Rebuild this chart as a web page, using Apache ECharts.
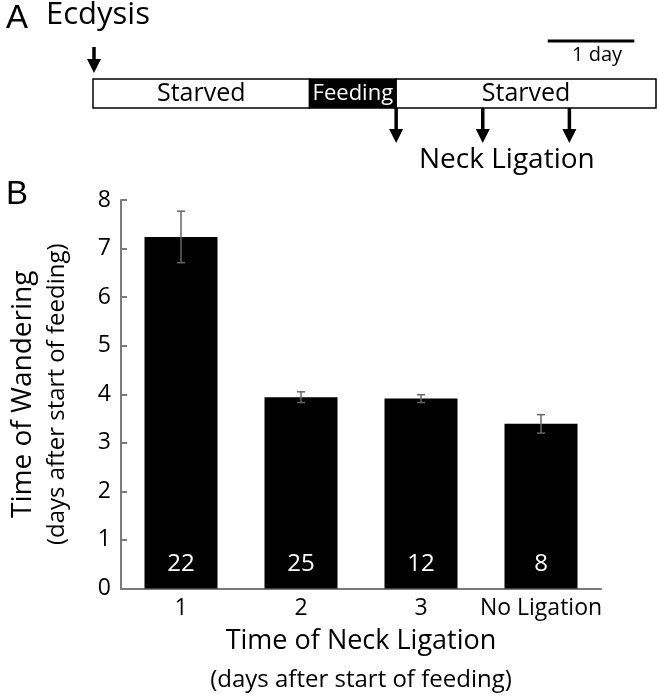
<!DOCTYPE html>
<html><head><meta charset="utf-8">
<script src="https://cdn.jsdelivr.net/npm/echarts@6/dist/echarts.min.js"></script>
<style>html,body{margin:0;padding:0;background:#fff}#c{width:658px;height:697px}</style>
</head><body><div id="c"></div>
<script>
// ---- Panel B data ----
const categories = ['1', '2', '3', 'No Ligation'];
const meanDays = [7.24, 3.94, 3.91, 3.39];
const errDays = [0.53, 0.11, 0.08, 0.19];
const sampleSizes = [22, 25, 12, 8];
const yTickMin = 0, yTickMax = 8, yTickStep = 1;

// ---- Panel A timeline (days after ecdysis) ----
const phaseNames = ['Starved', 'Feeding', 'Starved'];
const phaseStart = [0, 2.5, 3.5];
const phaseEnd = [2.5, 3.5, 6.5];
const ecdysisDay = [0];
const ligationDays = [3.5, 4.5, 5.5];
const scaleBarDays = [5.25, 6.25];
const scaleBarLabel = '1 day';

const FONT = '"Open Sans", Lato, sans-serif';
const FW = 500;
const LETTER_FONT = '"Liberation Sans", Arial, sans-serif';
const chart = echarts.init(document.getElementById('c'));

const errData = categories.map((c, i) => [i, meanDays[i] - errDays[i], meanDays[i] + errDays[i]]);

function arrow(x, y1, y2) {
  const head = 14, hw = 7;
  return [
    {type: 'line', shape: {x1: x, y1: y1, x2: x, y2: y2 - head + 2}, style: {stroke: '#000', lineWidth: 3.5}},
    {type: 'polygon', shape: {points: [[x - hw, y2 - head], [x + hw, y2 - head], [x, y2]]}, style: {fill: '#000'}}
  ];
}

const option = {
  animation: false,
  backgroundColor: '#fff',
  textStyle: {fontFamily: FONT, fontWeight: FW},
  grid: [
    {left: 121, right: 57, top: 200, bottom: 107},
    {left: 93, right: 2, top: 79, height: 29}
  ],
  xAxis: [
    {
      type: 'category', gridIndex: 0, data: categories, boundaryGap: true,
      axisLine: {lineStyle: {color: '#7a7a7a', width: 2}},
      axisTick: {inside: true, length: 7, lineStyle: {color: '#7a7a7a', width: 2}},
      axisLabel: {fontSize: 23, color: '#000', margin: 8, interval: 0, fontFamily: FONT, fontWeight: FW},
      name: '{a|Time of Neck Ligation}\n{b|(days after start of feeding)}',
      nameLocation: 'middle', nameGap: 33,
      nameTextStyle: {
        rich: {
          a: {fontSize: 27, color: '#000', lineHeight: 39, fontFamily: FONT, fontWeight: FW},
          b: {fontSize: 24, color: '#000', lineHeight: 39, fontFamily: FONT, fontWeight: FW}
        }
      }
    },
    {type: 'value', gridIndex: 1, min: 0, max: 6.5, show: false}
  ],
  yAxis: [
    {
      type: 'value', gridIndex: 0, min: yTickMin, max: yTickMax, interval: yTickStep,
      axisLine: {show: true, lineStyle: {color: '#7a7a7a', width: 2}},
      axisTick: {show: true, inside: true, length: 6, lineStyle: {color: '#7a7a7a', width: 2}},
      axisLabel: {fontSize: 23, color: '#000', margin: 10, fontFamily: FONT, fontWeight: FW},
      splitLine: {show: false},
      name: '{a|Time of Wandering}\n{b|(days after start of feeding)}',
      nameLocation: 'middle', nameGap: 47, nameRotate: 90,
      nameTextStyle: {
        rich: {
          a: {fontSize: 28, color: '#000', lineHeight: 34, fontFamily: FONT, fontWeight: FW},
          b: {fontSize: 24, color: '#000', lineHeight: 34, fontFamily: FONT, fontWeight: FW}
        }
      }
    },
    {type: 'value', gridIndex: 1, min: 0, max: 1, show: false}
  ],
  series: [
    {
      type: 'bar', xAxisIndex: 0, yAxisIndex: 0, data: meanDays, barWidth: 73,
      itemStyle: {color: '#000'},
      label: {
        show: true, position: 'insideBottom', distance: 12,
        formatter: p => String(sampleSizes[p.dataIndex]),
        color: '#fff', fontSize: 24, fontFamily: FONT, fontWeight: FW
      },
      z: 2
    },
    {
      type: 'custom', xAxisIndex: 0, yAxisIndex: 0, data: errData, z: 5,
      renderItem: (params, api) => {
        const lo = api.coord([api.value(0), api.value(1)]);
        const hi = api.coord([api.value(0), api.value(2)]);
        const hw = 4, st = {stroke: '#666', lineWidth: 1.5};
        return {type: 'group', children: [
          {type: 'line', shape: {x1: lo[0], y1: lo[1], x2: hi[0], y2: hi[1]}, style: st},
          {type: 'line', shape: {x1: hi[0] - hw, y1: hi[1], x2: hi[0] + hw, y2: hi[1]}, style: st},
          {type: 'line', shape: {x1: lo[0] - hw, y1: lo[1], x2: lo[0] + hw, y2: lo[1]}, style: st}
        ]};
      }
    },
    {
      type: 'custom', xAxisIndex: 1, yAxisIndex: 1,
      data: phaseNames.map((n, i) => [phaseStart[i], phaseEnd[i], i]),
      renderItem: (params, api) => {
        const p0 = api.coord([api.value(0), 1]);
        const p1 = api.coord([api.value(1), 0]);
        const name = phaseNames[api.value(2)];
        const dark = name === 'Feeding';
        return {
          type: 'rect',
          shape: {x: p0[0], y: p0[1], width: p1[0] - p0[0], height: p1[1] - p0[1]},
          style: {fill: dark ? '#000' : '#fff', stroke: '#000', lineWidth: 1.5},
          textContent: {style: {text: name, fill: dark ? '#fff' : '#000', fontSize: dark ? 22 : 25, fontFamily: FONT, fontWeight: FW}},
          textConfig: {position: 'inside'}
        };
      }
    },
    {
      type: 'custom', xAxisIndex: 1, yAxisIndex: 1,
      data: ecdysisDay.map(d => [d]),
      renderItem: (params, api) => {
        const x = api.coord([api.value(0), 1]);
        return {type: 'group', children: arrow(x[0] + 1, x[1] - 32, x[1] - 6)};
      }
    },
    {
      type: 'custom', xAxisIndex: 1, yAxisIndex: 1,
      data: ligationDays.map(d => [d]),
      renderItem: (params, api) => {
        const x = api.coord([api.value(0), 0]);
        return {type: 'group', children: arrow(x[0], x[1], x[1] + 35)};
      }
    },
    {
      type: 'custom', xAxisIndex: 1, yAxisIndex: 1,
      data: [[scaleBarDays[0], scaleBarDays[1]]],
      renderItem: (params, api) => {
        const a = api.coord([api.value(0), 1]);
        const b = api.coord([api.value(1), 1]);
        const y = a[1] - 38;
        return {type: 'group', children: [
          {type: 'line', shape: {x1: a[0], y1: y, x2: b[0], y2: y}, style: {stroke: '#000', lineWidth: 3}},
          {type: 'text', x: (a[0] + b[0]) / 2 + 6, y: y + 14, style: {text: scaleBarLabel, fontSize: 20, fontFamily: FONT, fontWeight: FW, fill: '#000', align: 'center', verticalAlign: 'middle'}}
        ]};
      }
    }
  ],
  graphic: [
    {type: 'text', left: 6, top: 2, style: {text: 'A', fontSize: 33, fontFamily: LETTER_FONT, fill: '#000'}},
    {type: 'text', left: 46, top: 0, style: {text: 'Ecdysis', fontSize: 31, fontFamily: FONT, fontWeight: FW, fill: '#000'}},
    {type: 'text', left: 419, top: 146, style: {text: 'Neck Ligation', fontSize: 28, fontFamily: FONT, fontWeight: FW, fill: '#000'}},
    {type: 'text', left: 6, top: 178, style: {text: 'B', fontSize: 33, fontFamily: LETTER_FONT, fill: '#000'}}
  ]
};
chart.setOption(option);
</script>
</body></html>
